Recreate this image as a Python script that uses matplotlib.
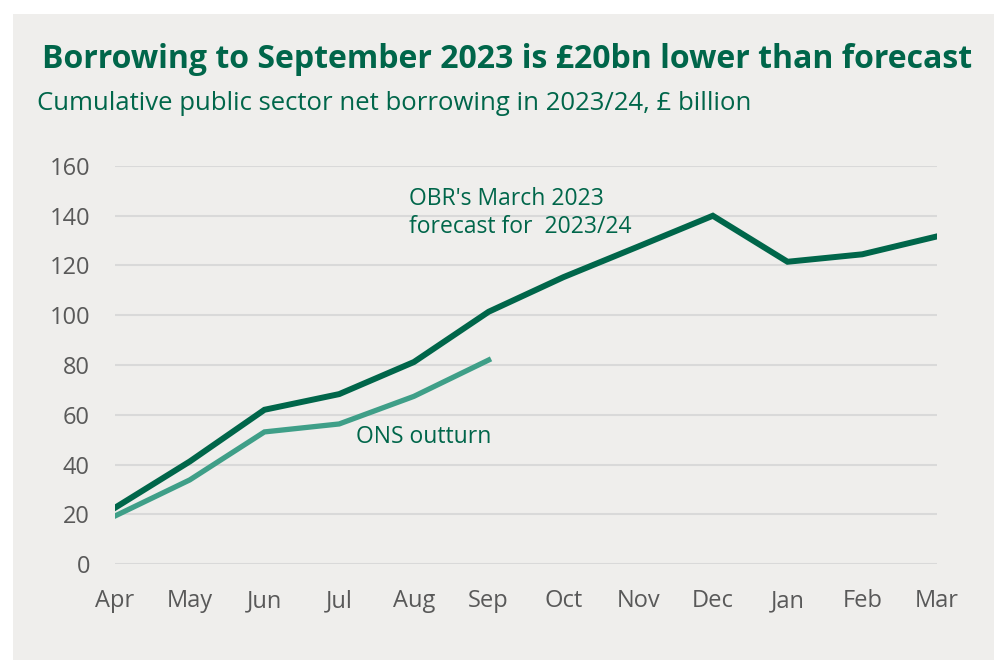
import matplotlib
matplotlib.use("Agg")
import matplotlib.pyplot as plt
from matplotlib.patches import Rectangle

months = ["Apr", "May", "Jun", "Jul", "Aug", "Sep", "Oct", "Nov", "Dec", "Jan", "Feb", "Mar"]
obr_forecast = [22.6, 41.2, 62.0, 68.3, 81.2, 101.4, 115.3, 127.6, 140.0, 121.5, 124.5, 131.7]
ons_outturn = [19.3, 33.8, 53.1, 56.3, 67.4, 82.0]
yticks = [0, 20, 40, 60, 80, 100, 120, 140, 160]

dark_green = "#00664a"
teal = "#3f9f88"
panel = "#efeeec"
grid_col = "#d9d9d9"
tick_col = "#595959"

fig = plt.figure(figsize=(9.95, 6.6), dpi=100)
fig.patch.set_facecolor("white")
fig.patches.append(Rectangle((13 / 995, 0), 1, (660 - 14) / 660, transform=fig.transFigure,
                             facecolor=panel, edgecolor="none", zorder=-5))

ax = fig.add_axes([115 / 995, 96 / 660, 822 / 995, 398 / 660])
ax.set_facecolor("none")

x = list(range(len(months)))
ax.plot(x, obr_forecast, color=dark_green, lw=4.3, solid_joinstyle="miter", zorder=3)
ax.plot(x[:len(ons_outturn)], ons_outturn, color=teal, lw=3.8, solid_joinstyle="miter", zorder=3)

ax.set_xlim(0, len(months) - 1)
ax.set_ylim(0, 160)
ax.set_yticks(yticks)
ax.set_xticks(x)
ax.set_xticklabels(months)
for s in ax.spines.values():
    s.set_visible(False)
ax.grid(axis="y", color=grid_col, lw=1.5)
ax.set_axisbelow(True)
ax.tick_params(length=0, labelsize=17, labelcolor=tick_col, pad=18)
ax.tick_params(axis="x", pad=18)
for lab in ax.get_xticklabels() + ax.get_yticklabels():
    lab.set_family("Open Sans")

ax.text(3.93, 141, "OBR's March 2023\nforecast for  2023/24", color=dark_green, fontsize=16.5,
        family="Open Sans", va="center", ha="left", linespacing=1.2)
ax.text(3.22, 51, "ONS outturn", color=dark_green, fontsize=16.5, family="Open Sans",
        va="center", ha="left")

fig.text(42 / 995, 1 - 60 / 660, "Borrowing to September 2023 is £20bn lower than forecast",
         color=dark_green, fontsize=23, fontweight="bold", family="Open Sans", va="center")
fig.text(37 / 995, 1 - 104 / 660, "Cumulative public sector net borrowing in 2023/24, £ billion",
         color=dark_green, fontsize=18.5, family="Open Sans", va="center")

fig.savefig("out.png", dpi=100, facecolor=fig.get_facecolor())
